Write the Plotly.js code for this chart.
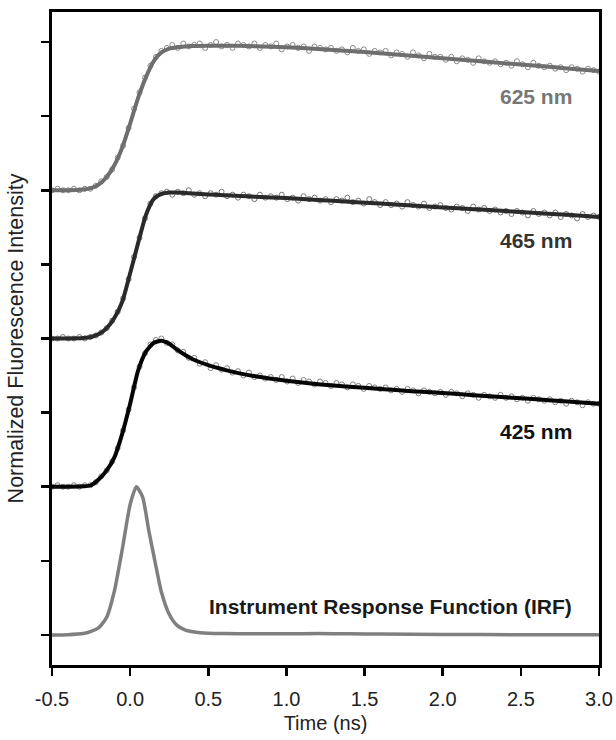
<!DOCTYPE html>
<html>
<head>
<meta charset="utf-8">
<script src="https://cdn.plot.ly/plotly-3.0.1.min.js"></script>
<style>
  html, body { margin: 0; padding: 0; background: #ffffff; }
  #chart { width: 616px; height: 740px; }
</style>
</head>
<body>
<div id="chart"></div>
<script>
// Time-resolved fluorescence decays at three emission wavelengths plus the IRF.
// Each trace is normalized to 1 and stacked with a vertical offset.

// Sampled decay data: start time and spacing of the measured channels (ns)
const sampleStart = -0.5;
const sampleStep = 0.035;

const data625 = [0.00, 0.01, 0.00, 0.00, 0.01, 0.00,
  0.01, 0.01, 0.03, 0.06, 0.09, 0.14, 0.22, 0.30, 0.42, 0.55, 0.66, 0.76, 0.84, 0.90, 0.94, 0.96, 0.98, 0.96,
  0.99, 0.97, 0.98, 0.99, 0.96, 0.98, 1.00, 0.97, 0.98, 0.96, 0.99, 0.98, 0.97, 0.99, 0.96, 0.98, 0.97,
  0.99, 0.95, 0.97, 0.98, 0.96, 0.97, 0.94, 0.97, 0.96, 0.95,
  0.96, 0.94, 0.95, 0.93, 0.96, 0.94, 0.95, 0.92, 0.94, 0.93,
  0.94, 0.91, 0.93, 0.92, 0.90, 0.93, 0.91, 0.89, 0.92, 0.90,
  0.90, 0.88, 0.90, 0.87, 0.89, 0.88, 0.86, 0.89, 0.87, 0.86,
  0.87, 0.85, 0.86, 0.84, 0.87, 0.85, 0.83, 0.86, 0.84, 0.83,
  0.84, 0.82, 0.83, 0.81, 0.83, 0.82, 0.80, 0.82, 0.81, 0.80];

const data465 = [0.00, 0.00, 0.01, 0.00, 0.00, 0.01,
  0.00, 0.01, 0.02, 0.04, 0.07, 0.12, 0.18, 0.27, 0.40, 0.55, 0.68, 0.81, 0.91, 0.96, 0.98, 0.99, 0.97, 0.99,
  0.98, 1.00, 0.97, 0.98, 0.96, 0.98, 0.97, 0.99, 0.96, 0.97, 0.95, 0.97, 0.96, 0.94, 0.97, 0.95, 0.96,
  0.95, 0.97, 0.94, 0.95, 0.93, 0.96, 0.94, 0.95, 0.93, 0.94,
  0.92, 0.94, 0.93, 0.95, 0.92, 0.93, 0.91, 0.94, 0.92, 0.90,
  0.92, 0.90, 0.91, 0.89, 0.92, 0.90, 0.89, 0.91, 0.88, 0.89,
  0.90, 0.88, 0.87, 0.89, 0.88, 0.86, 0.89, 0.87, 0.88, 0.86,
  0.87, 0.85, 0.86, 0.84, 0.86, 0.85, 0.83, 0.86, 0.84, 0.85,
  0.83, 0.85, 0.82, 0.84, 0.83, 0.81, 0.84, 0.82, 0.83, 0.82];

const data425 = [0.00, 0.01, 0.00, 0.00, 0.01, 0.00,
  0.01, 0.01, 0.03, 0.07, 0.11, 0.17, 0.26, 0.38, 0.52, 0.67, 0.81, 0.90, 0.96, 0.99, 1.00, 0.97, 0.96, 0.92,
  0.91, 0.87, 0.87, 0.83, 0.84, 0.80, 0.82, 0.79, 0.80, 0.77, 0.78, 0.75, 0.77, 0.74, 0.75, 0.73, 0.74,
  0.72, 0.74, 0.71, 0.73, 0.70, 0.72, 0.71, 0.69, 0.71, 0.70,
  0.68, 0.70, 0.69, 0.67, 0.69, 0.68, 0.66, 0.68, 0.67, 0.66,
  0.67, 0.65, 0.66, 0.64, 0.66, 0.65, 0.63, 0.65, 0.64, 0.63,
  0.64, 0.62, 0.64, 0.63, 0.61, 0.63, 0.62, 0.60, 0.62, 0.61,
  0.60, 0.62, 0.60, 0.61, 0.59, 0.60, 0.58, 0.60, 0.59, 0.58,
  0.59, 0.57, 0.58, 0.56, 0.58, 0.57, 0.55, 0.57, 0.56, 0.56];

// Fitted curves
const fitTime = [-0.5, -0.4, -0.3, -0.25, -0.2, -0.15, -0.1, -0.05, 0, 0.05, 0.1, 0.15, 0.2, 0.25,
  0.3, 0.35, 0.4, 0.5, 0.6, 0.7, 0.8, 1.0, 1.2, 1.4, 1.6, 1.8, 2.0, 2.2, 2.4, 2.6, 2.8, 3.0];
const fit625 = [0, 0, 0.005, 0.015, 0.04, 0.09, 0.17, 0.29, 0.45, 0.62, 0.76, 0.87, 0.93, 0.955,
  0.965, 0.97, 0.973, 0.975, 0.975, 0.974, 0.972, 0.965, 0.953, 0.94, 0.925, 0.907, 0.89, 0.873, 0.856, 0.84, 0.822, 0.805];
const fit465 = [0, 0, 0.003, 0.01, 0.03, 0.07, 0.14, 0.25, 0.44, 0.64, 0.83, 0.94, 0.975, 0.985,
  0.985, 0.982, 0.978, 0.972, 0.967, 0.962, 0.957, 0.947, 0.935, 0.922, 0.91, 0.897, 0.884, 0.872, 0.86, 0.847, 0.834, 0.82];
const fit425 = [0, 0, 0.003, 0.01, 0.05, 0.11, 0.2, 0.36, 0.56, 0.78, 0.91, 0.97, 0.985, 0.965,
  0.925, 0.89, 0.86, 0.82, 0.79, 0.765, 0.745, 0.715, 0.692, 0.675, 0.66, 0.645, 0.632, 0.618, 0.603, 0.59, 0.575, 0.56];

// Instrument response function
const irfTime = [-0.5, -0.4, -0.3, -0.25, -0.2, -0.15, -0.1, -0.05, 0, 0.04, 0.08, 0.12, 0.16, 0.2,
  0.25, 0.3, 0.35, 0.4, 0.45, 0.5, 0.6, 0.8, 1.0, 1.2, 1.4, 1.6, 2.0, 2.5, 3.0];
const irfValues = [0, 0.002, 0.01, 0.025, 0.05, 0.12, 0.30, 0.58, 0.88, 1.0, 0.93, 0.70, 0.49, 0.29,
  0.14, 0.065, 0.035, 0.022, 0.015, 0.012, 0.01, 0.008, 0.008, 0.01, 0.008, 0.006, 0.004, 0.002, 0.002];

// Stacking: each normalized trace spans two tick intervals
const traceScale = 2;
const offsetIRF = 0, offset425 = 2, offset465 = 4, offset625 = 6;

const xTickValues = [-0.5, 0.0, 0.5, 1.0, 1.5, 2.0, 2.5, 3.0];
const xTickLabels = ['-0.5', '0.0', '0.5', '1.0', '1.5', '2.0', '2.5', '3.0'];
const yTickValues = [0, 1, 2, 3, 4, 5, 6, 7, 8];

const sampleTime = data625.map((_, i) => +(sampleStart + i * sampleStep).toFixed(3));
const stack = (arr, off) => arr.map(v => off + traceScale * v);

const FONT = 'Liberation Sans, Arial, Helvetica, sans-serif';

function markerTrace(y, off, color) {
  return {
    x: sampleTime, y: stack(y, off), type: 'scatter', mode: 'markers',
    marker: { symbol: 'circle-open', size: 5, color: color, line: { width: 1, color: color } },
    hoverinfo: 'skip'
  };
}
function lineTrace(x, y, off, color, width) {
  return {
    x: x, y: stack(y, off), type: 'scatter', mode: 'lines',
    line: { color: color, width: width, shape: 'spline', smoothing: 0.6 },
    hoverinfo: 'skip'
  };
}

const traces = [
  markerTrace(data625, offset625, '#8a8a8a'),
  markerTrace(data465, offset465, '#777777'),
  markerTrace(data425, offset425, '#808080'),
  lineTrace(fitTime, fit625, offset625, '#6e6e6e', 4),
  lineTrace(fitTime, fit465, offset465, '#2a2a2a', 4),
  lineTrace(fitTime, fit425, offset425, '#050505', 4),
  lineTrace(irfTime, irfValues, offsetIRF, '#7f7f7f', 3.5)
];

const labelX = 2.837;
const annotations = [
  { text: '<b>625 nm</b>', x: labelX, y: 7.27, color: '#777777' },
  { text: '<b>465 nm</b>', x: labelX, y: 5.32, color: '#333333' },
  { text: '<b>425 nm</b>', x: labelX, y: 2.74, color: '#111111' },
  { text: '<b>Instrument Response Function (IRF)</b>', x: labelX, y: 0.38, color: '#1a1a1a' }
].map(a => ({
  text: a.text, x: a.x, y: a.y, xref: 'x', yref: 'y', xanchor: 'right', yanchor: 'middle',
  showarrow: false, font: { family: FONT, size: 21, color: a.color }
}));

const layout = {
  width: 616, height: 740,
  margin: { l: 52, r: 17, t: 12, b: 75 },
  paper_bgcolor: '#ffffff', plot_bgcolor: '#ffffff',
  showlegend: false,
  font: { family: FONT, size: 20, color: '#222222' },
  xaxis: {
    range: [-0.5, 3.0], tickvals: xTickValues, ticktext: xTickLabels,
    showgrid: false, zeroline: false,
    showline: true, mirror: true, linewidth: 3, linecolor: '#000000',
    ticks: 'outside', ticklen: 8, tickwidth: 2.5, tickcolor: '#000000',
    ticklabelstandoff: 6,
    tickfont: { family: FONT, size: 20, color: '#222222' },
    title: { text: 'Time (ns)', font: { family: FONT, size: 20, color: '#222222' }, standoff: 7 },
    automargin: false
  },
  yaxis: {
    range: [-0.405, 8.405], tickvals: yTickValues, showticklabels: false,
    showgrid: false, zeroline: false,
    showline: true, mirror: true, linewidth: 3, linecolor: '#000000',
    ticks: 'outside', ticklen: 8, tickwidth: 2.5, tickcolor: '#000000',
    title: { text: 'Normalized Fluorescence Intensity', font: { family: FONT, size: 21.5, color: '#222222' }, standoff: 12 },
    automargin: false
  },
  annotations: annotations
};

Plotly.newPlot('chart', traces, layout, { displayModeBar: false, staticPlot: true });
</script>
</body>
</html>
